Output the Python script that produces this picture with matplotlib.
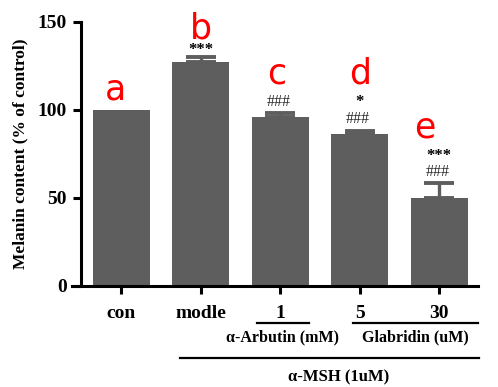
import matplotlib
matplotlib.use("Agg")
import matplotlib.pyplot as plt
from matplotlib.lines import Line2D

groups = ["con", "modle", "1", "5", "30"]
values = [100, 127, 96, 86.5, 50]
errors = [0, 3, 2, 1.5, 8.5]
letters = ["a", "b", "c", "d", "e"]
stars = ["", "***", "", "*", "***"]
hashes = ["", "", "###", "###", "###"]

W, H = 498, 387
serif = ["Liberation Serif", "DejaVu Serif"]
gray = "#5e5e5e"

fig = plt.figure(figsize=(W / 100, H / 100), dpi=100)


def fx(px):
    return px / W


def fy(py):
    return 1 - py / H


ax = fig.add_axes([fx(81), fy(286), fx(478) - fx(81), fy(21.7) - fy(286)])
x = list(range(len(groups)))
ax.bar(x, values, width=0.72, color=gray, zorder=2)
ax.errorbar(x[1:], values[1:], yerr=[[0] * 4, errors[1:]], fmt="none",
            ecolor=gray, elinewidth=2.4, capsize=11, capthick=2.8, zorder=1)

ax.set_xlim(-0.51, 4.49)
ax.set_ylim(0, 150)
ax.set_yticks([0, 50, 100, 150])
ax.set_xticks(x)
ax.set_xticklabels(groups)
for s in ["top", "right"]:
    ax.spines[s].set_visible(False)
for s in ["left", "bottom"]:
    ax.spines[s].set_linewidth(2.2)
ax.spines["bottom"].set_bounds(-0.62, 4.49)
ax.tick_params(axis="both", width=2.2, length=6, pad=4)
ax.tick_params(axis="x", pad=8)
for lab in ax.get_xticklabels() + ax.get_yticklabels():
    lab.set_family(serif)
    lab.set_fontweight("bold")
    lab.set_fontsize(14)

ax.set_ylabel("Melanin content (% of control)", family=serif,
              fontweight="bold", fontsize=12.5, labelpad=7)

# red group letters
letter_dx = [-0.07, 0, -0.05, 0, -0.18]
letter_y = [105.6, 140.5, 115, 115, 84]
for i, t in enumerate(letters):
    ax.text(x[i] + letter_dx[i], letter_y[i], t, color="red", fontsize=25,
            family="DejaVu Sans", ha="center", va="baseline")

# significance marks
star_y = [0, 134, 0, 104.5, 73.5]
hash_y = [0, 0, 104.5, 94.5, 64.5]
for i in x:
    if stars[i]:
        ax.text(x[i], star_y[i], stars[i], family=serif, fontweight="bold",
                fontsize=12, ha="center", va="center")
    if hashes[i]:
        ax.text(x[i] - 0.02, hash_y[i], hashes[i], family=serif, fontsize=11.5,
                color="#2a2a2a", ha="center", va="center")

# group annotations below the axis
fig.text(fx(282), fy(337), "α-Arbutin (mM)", family=serif, fontweight="bold",
         fontsize=11.5, ha="center", va="center")
fig.text(fx(415), fy(337), "Glabridin (uM)", family=serif, fontweight="bold",
         fontsize=11.5, ha="center", va="center")
fig.text(fx(339), fy(377), "α-MSH (1uM)", family=serif, fontweight="bold",
         fontsize=12, ha="center", va="center")
for x0, x1, y in [(257, 309, 323), (353, 478, 323), (180, 479, 358)]:
    fig.add_artist(Line2D([fx(x0), fx(x1)], [fy(y), fy(y)], color="black",
                          linewidth=1.6, transform=fig.transFigure))

fig.savefig("out.png", dpi=100)
